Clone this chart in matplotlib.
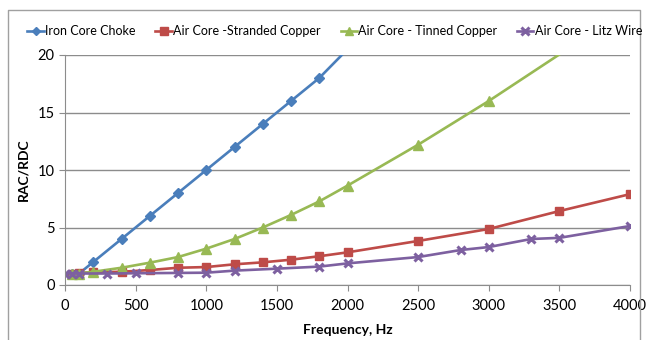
import numpy as np
import matplotlib.pyplot as plt

plt.rcParams['font.family'] = ['Lato', 'DejaVu Sans']

# Iron core choke
freq_iron = [50, 100, 200, 400, 600, 800, 1000, 1200, 1400, 1600, 1800, 2000]
rac_iron = [1.0, 1.0, 2.0, 4.0, 6.0, 8.0, 10.0, 12.0, 14.0, 16.0, 18.0, 20.5]

# Air core - stranded copper
freq_strand = [50, 100, 200, 400, 600, 800, 1000, 1200, 1400, 1600, 1800, 2000, 2500, 3000, 3500, 4000]
rac_strand = [1.0, 1.05, 1.1, 1.15, 1.3, 1.5, 1.56, 1.8, 1.97, 2.2, 2.5, 2.84, 3.83, 4.87, 6.43, 7.9]

# Air core - tinned copper
freq_tin = [50, 100, 200, 400, 600, 800, 1000, 1200, 1400, 1600, 1800, 2000, 2500, 3000, 4000]
rac_tin = [1.0, 1.0, 1.15, 1.5, 1.94, 2.43, 3.16, 4.0, 5.0, 6.09, 7.27, 8.64, 12.2, 16.0, 24.1]

# Air core - litz wire
freq_litz = [0, 50, 100, 300, 500, 800, 1000, 1200, 1500, 1800, 2000, 2500, 2800, 3000, 3300, 3500, 4000]
rac_litz = [1.0, 1.0, 1.0, 1.0, 1.02, 1.05, 1.07, 1.25, 1.42, 1.6, 1.88, 2.43, 3.04, 3.3, 4.0, 4.1, 5.13]

labels = ['Iron Core Choke', 'Air Core -Stranded Copper',
          'Air Core - Tinned Copper', 'Air Core - Litz Wire']

fig = plt.figure(figsize=(6.5, 3.4), dpi=100)
ax = fig.add_axes([65 / 650, 1 - 285 / 340, 565 / 650, 230 / 340])

lw = 1.9
ax.plot(freq_iron, rac_iron, color='#4A7EBB', lw=lw, marker='D', ms=5, label=labels[0])
ax.plot(freq_strand, rac_strand, color='#BE4B48', lw=lw, marker='s', ms=6, label=labels[1])
ax.plot(freq_tin, rac_tin, color='#98B954', lw=lw, marker='^', ms=7, label=labels[2])
ax.plot(freq_litz, rac_litz, color='#7D60A0', lw=lw, marker='x', ms=6, mew=2.2, label=labels[3])

ax.set_xlim(0, 4000)
ax.set_ylim(0, 20)
ax.set_xticks(np.arange(0, 4001, 500))
ax.set_yticks(np.arange(0, 21, 5))
ax.yaxis.grid(True, color='#8c8c8c', lw=1)
ax.set_axisbelow(True)
for s in ['top', 'right']:
    ax.spines[s].set_visible(False)
for s in ['left', 'bottom']:
    ax.spines[s].set_color('#8c8c8c')
ax.tick_params(colors='#8c8c8c', labelcolor='black', labelsize=10.5, length=4, direction='out')
ax.tick_params(axis='x', pad=6)

ax.set_xlabel('Frequency, Hz', fontsize=10, fontweight='bold', labelpad=8)
ax.set_ylabel('RAC/RDC', fontsize=10, fontweight='bold', labelpad=6)

fig.legend(loc='center', bbox_to_anchor=(0.515, 1 - 31 / 340), ncol=4, frameon=False,
           fontsize=9, handlelength=1.3, handletextpad=0.1, columnspacing=1.6,
           markerscale=0.9)

# chart area frame
fig.add_artist(plt.Line2D([8 / 650, 8 / 650, 640 / 650, 640 / 650],
                          [-0.1, 1 - 10 / 340, 1 - 10 / 340, -0.1],
                          color='#a0a0a0', lw=1, transform=fig.transFigure))

fig.savefig('out.png', dpi=100)
